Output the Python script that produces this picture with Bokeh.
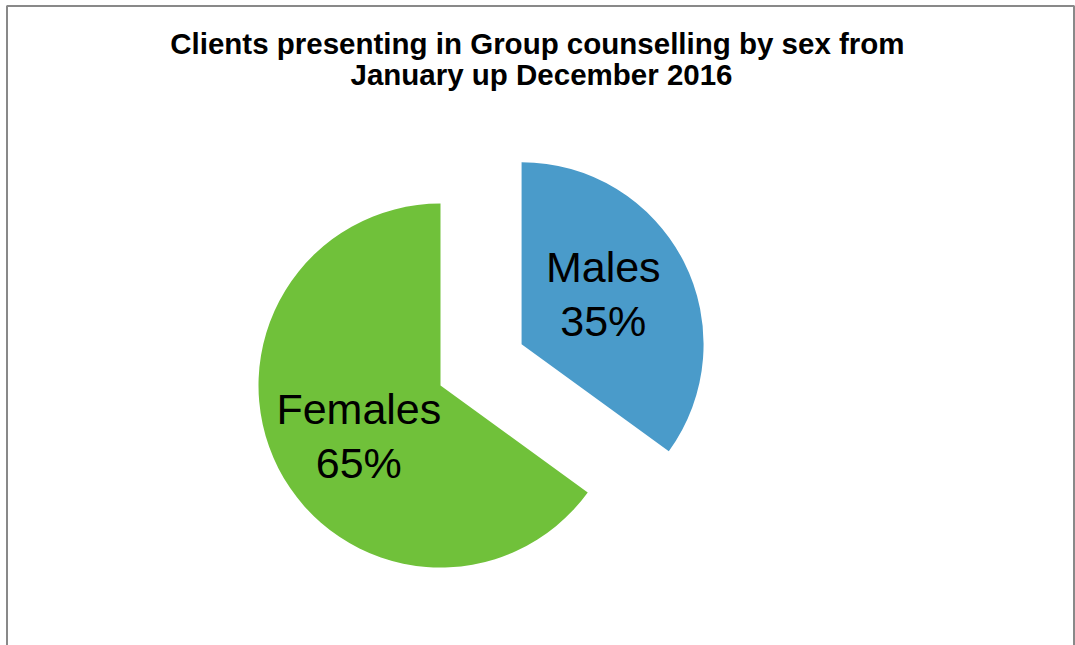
import math
from bokeh.plotting import figure
from bokeh.models import ColumnDataSource, Range1d, Label, BoxAnnotation
from bokeh.core.properties import value
from bokeh.embed import file_html
from bokeh.resources import INLINE

# ---- data ----
categories = ["Males", "Females"]
percent = [35, 65]
colors = ["#4A9BCA", "#70C13A"]
explode = [91, 0]          # pixels the slice is pulled out
title_lines = ["Clients presenting  in Group counselling by sex from",
               "January up December 2016"]

# ---- layout (data units == screen pixels, y flipped) ----
W, H = 1075, 645
CX, CY = 440, H - 385      # pie centre
R = 182
LABEL_DIST = 96
LABEL_SHIFT = 0.082        # small angular nudge of the labels

p = figure(width=W, height=H, output_backend="svg", toolbar_location=None,
           x_range=Range1d(0, W), y_range=Range1d(0, H), min_border=0,
           tools="")
p.axis.visible = False
p.grid.visible = False
p.outline_line_color = None
p.background_fill_color = "white"
p.border_fill_color = "white"

# chart-area border (its bottom edge lies outside the window)
p.add_layout(BoxAnnotation(left=6.5, right=1073.5, top=H - 5.5, bottom=-20,
                           fill_alpha=0, line_color="#898989", line_alpha=1.0,
                           line_width=2, level="underlay"))

total = sum(percent)
start = math.pi / 2        # 12 o'clock, clockwise
xs, ys, sa, ea, lx, ly, ltxt = [], [], [], [], [], [], []
cum = 0.0
for cat, v, ex in zip(categories, percent, explode):
    a0 = start - 2 * math.pi * cum / total
    a1 = start - 2 * math.pi * (cum + v) / total
    mid = (a0 + a1) / 2
    cx = CX + ex * math.cos(mid)
    cy = CY + ex * math.sin(mid)
    xs.append(cx); ys.append(cy)
    sa.append(a1); ea.append(a0)
    lx.append(cx + LABEL_DIST * math.cos(mid + LABEL_SHIFT))
    ly.append(cy + LABEL_DIST * math.sin(mid + LABEL_SHIFT))
    ltxt.append(f"{cat}\n{v}%")
    cum += v

src = ColumnDataSource(dict(x=xs, y=ys, start=sa, end=ea, color=colors,
                            lx=lx, ly=ly, text=ltxt))
p.wedge(x="x", y="y", radius=R, start_angle="start", end_angle="end",
        fill_color="color", line_color=None, source=src)
p.text(x="lx", y="ly", text="text", source=src, text_align="center",
       text_baseline="middle", text_font=value("Liberation Sans"),
       text_font_size="43px", text_color="black", text_line_height=1.12)

for i, t in enumerate(title_lines):
    p.add_layout(Label(x=541, y=H - 43 - 31 * i, x_units="data", y_units="data",
                       text=t, text_align="center", text_baseline="alphabetic",
                       text_font="Liberation Sans", text_font_style="bold",
                       text_font_size="29.5px", text_color="black"))

open("out.html", "w").write(file_html(p, INLINE))
